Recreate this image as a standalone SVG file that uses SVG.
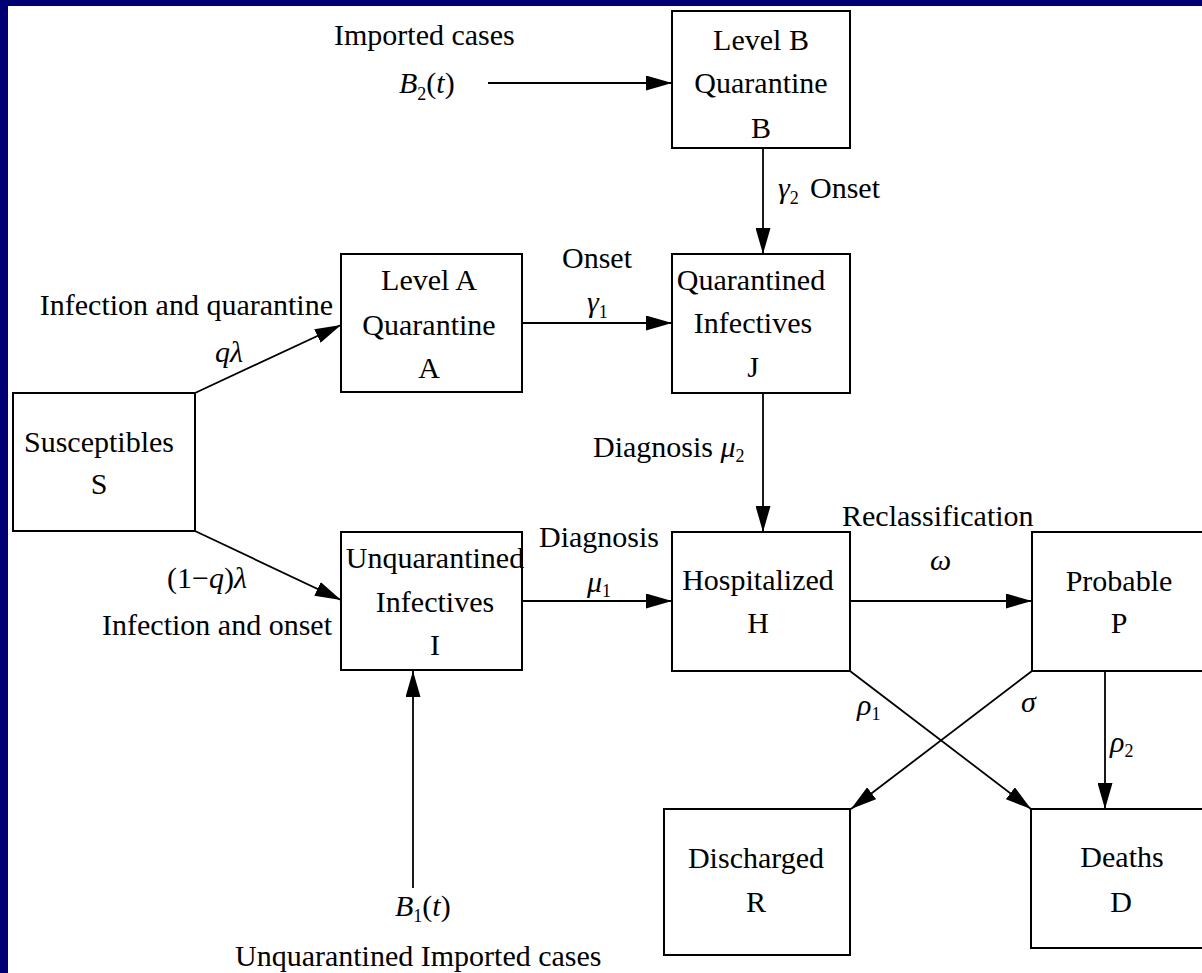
<svg xmlns="http://www.w3.org/2000/svg" width="1202" height="973" viewBox="0 0 1202 973">
  <defs>
    <marker id="arrow" markerUnits="userSpaceOnUse" markerWidth="26" markerHeight="15" refX="26" refY="7.5" orient="auto">
      <path d="M0,0 L26,7.5 L0,15 z" fill="#000"/>
    </marker>
    <style>
      text { font-family: "Liberation Serif", "Times New Roman", serif; font-size: 30px; fill: #000; }
      .c { text-anchor: middle; }
      .e { text-anchor: end; }
      .it { font-style: italic; }
      .sub { font-size: 18px; font-style: normal; }
      .box { fill: #fff; stroke: #000; stroke-width: 2; }
      .link { fill: none; stroke: #000; stroke-width: 1.8; marker-end: url(#arrow); }
    </style>
  </defs>

  <!-- slide frame -->
  <rect x="0" y="0" width="1202" height="973" fill="#000074"/>
  <rect x="8" y="6" width="1194" height="967" fill="#fff"/>

  <!-- connectors -->
  <g id="connectors">
    <line class="link" x1="488" y1="83" x2="672" y2="83"/>
    <line class="link" x1="763" y1="148" x2="763" y2="254"/>
    <line class="link" x1="195" y1="393" x2="341" y2="325"/>
    <line class="link" x1="195" y1="531" x2="341" y2="600"/>
    <line class="link" x1="522" y1="323" x2="672" y2="323"/>
    <line class="link" x1="763" y1="393" x2="763" y2="532"/>
    <line class="link" x1="522" y1="601" x2="672" y2="601"/>
    <line class="link" x1="850" y1="601" x2="1032" y2="601"/>
    <line class="link" x1="413" y1="888" x2="413" y2="671"/>
    <line class="link" x1="1105" y1="671" x2="1105" y2="809"/>
    <line class="link" x1="850" y1="671" x2="1031" y2="809"/>
    <line class="link" x1="1032" y1="671" x2="851" y2="809"/>
  </g>

  <!-- connector labels -->
  <g id="labels">
    <text x="334" y="45">Imported cases</text>
    <text x="399" y="93"><tspan class="it">B</tspan><tspan class="sub" dy="7">2</tspan><tspan dy="-7">(</tspan><tspan class="it">t</tspan><tspan>)</tspan></text>
    <text x="778" y="198"><tspan class="it">γ</tspan><tspan class="sub" dy="6">2</tspan><tspan dy="-6" x="810">Onset</tspan></text>
    <text x="597" y="268" class="c">Onset</text>
    <text x="587" y="312"><tspan class="it">γ</tspan><tspan class="sub" dy="6">1</tspan></text>
    <text x="333" y="315" class="e">Infection and quarantine</text>
    <text x="215" y="362" class="it">qλ</text>
    <text x="167" y="588">(1−<tspan class="it">q</tspan>)<tspan class="it">λ</tspan></text>
    <text x="332" y="635" class="e">Infection and onset</text>
    <text x="539" y="547">Diagnosis</text>
    <text x="587" y="592"><tspan class="it">μ</tspan><tspan class="sub" dy="5">1</tspan></text>
    <text x="593" y="457">Diagnosis <tspan class="it">μ</tspan><tspan class="sub" dy="5">2</tspan></text>
    <text x="842" y="526">Reclassification</text>
    <text x="930" y="570" class="it">ω</text>
    <text x="857" y="715"><tspan class="it">ρ</tspan><tspan class="sub" dy="5">1</tspan></text>
    <text x="1021" y="712" class="it">σ</text>
    <text x="1110" y="752"><tspan class="it">ρ</tspan><tspan class="sub" dy="5">2</tspan></text>
    <text x="395" y="916"><tspan class="it">B</tspan><tspan class="sub" dy="6">1</tspan><tspan dy="-6">(</tspan><tspan class="it">t</tspan><tspan>)</tspan></text>
    <text x="235" y="966">Unquarantined Imported cases</text>
  </g>

  <!-- compartments -->
  <g id="node-B">
    <rect class="box" x="672" y="11" width="178" height="137"/>
    <text x="761" y="50" class="c">Level B</text>
    <text x="761" y="93" class="c">Quarantine</text>
    <text x="761" y="138" class="c">B</text>
  </g>
  <g id="node-A">
    <rect class="box" x="341" y="254" width="181" height="138"/>
    <text x="429" y="290" class="c">Level A</text>
    <text x="429" y="335" class="c">Quarantine</text>
    <text x="429" y="378" class="c">A</text>
  </g>
  <g id="node-J">
    <rect class="box" x="672" y="254" width="178" height="139"/>
    <text x="751" y="290" class="c">Quarantined</text>
    <text x="753" y="333" class="c">Infectives</text>
    <text x="753" y="377" class="c">J</text>
  </g>
  <g id="node-S">
    <rect class="box" x="13" y="393" width="182" height="138"/>
    <text x="99" y="452" class="c">Susceptibles</text>
    <text x="99" y="494" class="c">S</text>
  </g>
  <g id="node-I">
    <rect class="box" x="341" y="532" width="181" height="138"/>
    <text x="435" y="568" class="c">Unquarantined</text>
    <text x="435" y="612" class="c">Infectives</text>
    <text x="435" y="655" class="c">I</text>
  </g>
  <g id="node-H">
    <rect class="box" x="672" y="532" width="178" height="139"/>
    <text x="758" y="590" class="c">Hospitalized</text>
    <text x="758" y="633" class="c">H</text>
  </g>
  <g id="node-P">
    <rect class="box" x="1032" y="532" width="180" height="139"/>
    <text x="1119" y="591" class="c">Probable</text>
    <text x="1119" y="633" class="c">P</text>
  </g>
  <g id="node-R">
    <rect class="box" x="664" y="809" width="186" height="146"/>
    <text x="756" y="868" class="c">Discharged</text>
    <text x="756" y="912" class="c">R</text>
  </g>
  <g id="node-D">
    <rect class="box" x="1031" y="809" width="181" height="139"/>
    <text x="1122" y="867" class="c">Deaths</text>
    <text x="1121" y="912" class="c">D</text>
  </g>
</svg>
